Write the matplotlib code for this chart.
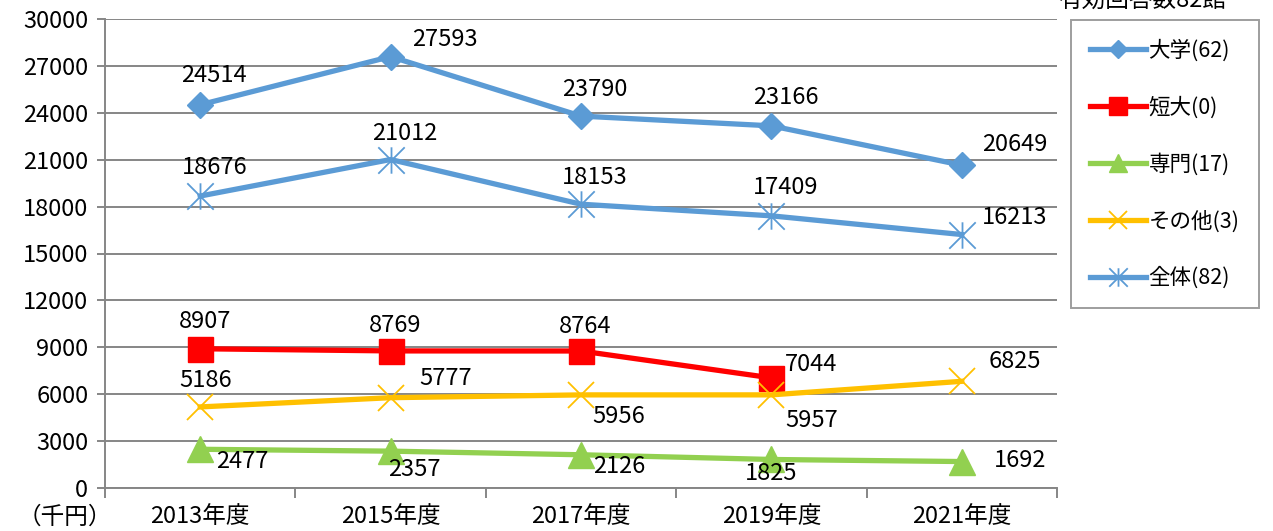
import numpy as np
import matplotlib
matplotlib.use('Agg')
from matplotlib import pyplot as plt
from matplotlib.path import Path

plt.rcParams['font.family'] = ['Noto Sans CJK JP', 'DejaVu Sans']

# データ
years = ['2013年度', '2015年度', '2017年度', '2019年度', '2021年度']
daigaku = [24514, 27593, 23790, 23166, 20649]
tandai = [8907, 8769, 8764, 7044]
senmon = [2477, 2357, 2126, 1825, 1692]
sonota = [5186, 5777, 5956, 5957, 6825]
zentai = [18676, 21012, 18153, 17409, 16213]
y_ticks = list(range(0, 30001, 3000))

# ラベル位置 (ピクセルオフセット)
off_daigaku = [(14, 29), (54, 17), (14, 27), (14, 28), (53, 21)]
off_tandai = [(5, 27), (5, 25), (4, 24), (40, 13)]
off_senmon = [(42, -12), (24, -18), (38, -12), (0, -14), (58, 1)]
off_sonota = [(5, 26), (55, 19), (38, -22), (40, -26), (53, 20)]
off_zentai = [(14, 29), (14, 26), (14, 27), (14, 28), (53, 17)]

# 全体のマーカー (x + 縦線)
star = Path([(-0.5, -0.5), (0.5, 0.5), (-0.5, 0.5), (0.5, -0.5), (0, -0.5), (0, 0.5)],
            [Path.MOVETO, Path.LINETO, Path.MOVETO, Path.LINETO, Path.MOVETO, Path.LINETO])

fs = 17
fig = plt.figure(figsize=(12.73, 5.31), dpi=100)
ax = fig.add_axes([105 / 1273, 1 - 488 / 531, (1057 - 105) / 1273, (488 - 19) / 531])

blue = '#5B9BD5'
x = np.arange(len(years))
series = [
    ('大学(62)', daigaku, blue, dict(marker='D', ms=13), off_daigaku),
    ('短大(0)', tandai, '#FF0000', dict(marker='s', ms=18), off_tandai),
    ('専門(17)', senmon, '#92D050', dict(marker='^', ms=19), off_senmon),
    ('その他(3)', sonota, '#FFC000', dict(marker='x', ms=19, mew=1.3), off_sonota),
    ('全体(82)', zentai, blue, dict(marker=star, ms=19, mew=1.3), off_zentai),
]

for label, vals, col, mk, offs in series:
    xs = x[:len(vals)]
    ax.plot(xs, vals, color=col, lw=3.8, label=label, zorder=3,
            mfc=col, mec=col, **mk)
    for xi, v, (dx, dy) in zip(xs, vals, offs):
        ax.annotate(str(v), (xi, v), xytext=(dx, dy), textcoords='offset pixels',
                    ha='center', va='center', fontsize=fs, zorder=5)

ax.set_xlim(-0.5, 4.5)
ax.set_ylim(0, 30000)
ax.set_yticks(y_ticks)
ax.set_yticklabels([str(t) for t in y_ticks], fontsize=fs)
ax.grid(axis='y', color='#868686', lw=1.4)
ax.set_axisbelow(True)
ax.set_xticks(x)
ax.set_xticklabels(years, fontsize=fs)
ax.set_xticks(np.arange(-0.5, 5, 1), minor=True)
ax.tick_params(axis='x', which='major', length=0, pad=12)
ax.tick_params(axis='x', which='minor', length=7, color='#868686', width=1.4)
ax.tick_params(axis='y', length=6, color='#868686', width=1.4, pad=6)
for s in ['top', 'right']:
    ax.spines[s].set_visible(False)
for s in ['left', 'bottom']:
    ax.spines[s].set_color('#868686')
    ax.spines[s].set_linewidth(1.4)

leg = ax.legend(loc='upper left', bbox_to_anchor=(1071 / 1273, 1 - 20 / 531),
                bbox_transform=fig.transFigure, fontsize=15.5, frameon=True,
                fancybox=False, edgecolor='#868686', handlelength=2.6,
                labelspacing=1.6, borderpad=0.9, handletextpad=0.1,
                borderaxespad=0, markerscale=0.7)
leg.get_frame().set_linewidth(1.4)

fig.text(1142 / 1273, 1 - 12 / 531, '有効回答数82館', ha='center', va='bottom', fontsize=fs)
fig.text(65 / 1273, 1 - 517 / 531, '（千円）', ha='center', va='center', fontsize=fs)

fig.savefig('out.png', dpi=100)
